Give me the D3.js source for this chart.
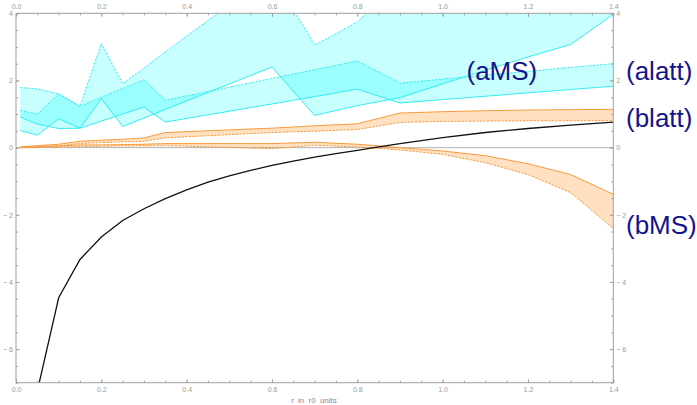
<!DOCTYPE html>
<html>
<head>
<meta charset="utf-8">
<script src="https://cdn.jsdelivr.net/npm/d3@7"></script>
<style>
  body { margin: 0; background: #fff; }
  svg { display: block; font-family: "Liberation Sans", Arial, sans-serif; }
</style>
</head>
<body>
<svg id="chart" width="697" height="405"></svg>
<script>
// Sample radii (in r0 units) shared by the four bands
const rBand = [0.01, 0.05, 0.1, 0.15, 0.2, 0.25, 0.3, 0.35, 0.6, 0.7, 0.8, 0.9, 1.0, 1.1, 1.2, 1.3, 1.4];

// a coefficient, MS estimate (upper dashed / lower solid)
const aMSUpper = [1.79, 1.75, 1.60, 1.23, 3.10, 1.90, 2.37, 2.85, 5.20, 3.05, 3.74, 5.00, 5.40, 5.70, 6.00, 6.20, 6.40];
const aMSLower = [0.51, 0.37, 0.86, 0.58, 1.46, 0.63, 0.88, 1.14, 2.40, 0.96, 1.25, 1.49, 1.90, 2.30, 2.70, 3.07, 3.97];

// a coefficient, lattice estimate (upper dashed / lower solid)
const alattUpper = [1.11, 0.99, 1.60, 1.23, 1.50, 1.76, 2.02, 1.41, 2.06, 2.32, 2.58, 1.92, 2.04, 2.16, 2.27, 2.39, 2.50];
const alattLower = [0.91, 0.70, 0.57, 0.58, 0.79, 1.00, 1.21, 0.76, 1.30, 1.52, 1.74, 1.33, 1.43, 1.53, 1.63, 1.73, 1.83];

// b coefficient, lattice estimate (upper solid / lower dashed)
const blattUpper = [0.02, 0.06, 0.10, 0.19, 0.22, 0.25, 0.29, 0.45, 0.58, 0.65, 0.71, 1.03, 1.07, 1.10, 1.12, 1.13, 1.14];
const blattLower = [0.00, 0.03, 0.05, 0.12, 0.15, 0.17, 0.19, 0.29, 0.45, 0.49, 0.54, 0.75, 0.78, 0.79, 0.80, 0.80, 0.81];

// b coefficient, MS estimate (upper solid / lower dashed)
const bMSUpper = [0.00, 0.02, 0.05, 0.08, 0.08, 0.09, 0.10, 0.12, 0.12, 0.16, 0.10, 0.00, -0.10, -0.24, -0.48, -0.80, -1.39];
const bMSLower = [0.00, 0.01, 0.02, 0.03, 0.04, 0.05, 0.05, 0.06, -0.03, 0.07, 0.02, -0.07, -0.20, -0.45, -0.80, -1.34, -2.41];

// Reference curve
const rCurve = [0.05, 0.1, 0.15, 0.2, 0.25, 0.3, 0.35, 0.4, 0.45, 0.5, 0.55, 0.6, 0.65, 0.7, 0.75, 0.8, 0.85, 0.9, 0.95, 1.0, 1.1, 1.2, 1.3, 1.4];
const curveVals = [-7.25, -4.47, -3.33, -2.66, -2.17, -1.82, -1.52, -1.26, -1.03, -0.84, -0.68, -0.53, -0.40, -0.28, -0.18, -0.08, 0.02, 0.12, 0.21, 0.30, 0.45, 0.57, 0.67, 0.76];

// Ticks
const xMajor = [0, 0.2, 0.4, 0.6, 0.8, 1.0, 1.2, 1.4];
const xMinor = d3.range(0, 1.4001, 0.05);
const yMajor = [-6, -4, -2, 0, 2, 4];
const yMinor = d3.range(-7, 4.001, 0.5);

(function draw() {
  const svg = d3.select("#chart");
  const pLeft = 16, pRight = 613.3, pTop = 13.3, pBottom = 382.7;

  const x = d3.scaleLinear().domain([0, 1.4]).range([pLeft, pRight]);
  const y = d3.scaleLinear().domain([-7, 4]).range([pBottom, pTop]);

  svg.append("defs").append("clipPath").attr("id", "plotClip")
    .append("rect")
    .attr("x", pLeft).attr("y", pTop)
    .attr("width", pRight - pLeft).attr("height", pBottom - pTop);

  const plot = svg.append("g").attr("clip-path", "url(#plotClip)");

  // zero line
  plot.append("line")
    .attr("x1", pLeft).attr("x2", pRight)
    .attr("y1", y(0)).attr("y2", y(0))
    .attr("stroke", "#b4b4b4").attr("stroke-width", 1);

  const cyan = "#36eaf2";
  const orange = "#f89a3c";
  const dash = "2.2,1.4";

  // shaded band between two curves; dashedEdge says which edge is drawn dashed
  function band(upper, lower, fill, fillOpacity, stroke, dashedEdge) {
    const pts = rBand.map((r, i) => ({ r, hi: upper[i], lo: lower[i] }));
    const area = d3.area().x(d => x(d.r)).y0(d => y(d.lo)).y1(d => y(d.hi));
    plot.append("path").datum(pts)
      .attr("d", area)
      .attr("fill", fill).attr("fill-opacity", fillOpacity).attr("stroke", "none");
    ["hi", "lo"].forEach(key => {
      plot.append("path").datum(pts)
        .attr("d", d3.line().x(d => x(d.r)).y(d => y(d[key])))
        .attr("fill", "none").attr("stroke", stroke).attr("stroke-width", 1)
        .attr("stroke-dasharray", key === dashedEdge ? dash : null);
    });
  }

  band(aMSUpper, aMSLower, "#00ffff", 0.22, cyan, "hi");
  band(alattUpper, alattLower, "#00ffff", 0.22, cyan, "hi");
  band(blattUpper, blattLower, "#ff8000", 0.24, orange, "lo");
  band(bMSUpper, bMSLower, "#ff8000", 0.24, orange, "lo");

  plot.append("path")
    .datum(rCurve.map((r, i) => [r, curveVals[i]]))
    .attr("d", d3.line().x(d => x(d[0])).y(d => y(d[1])))
    .attr("fill", "none").attr("stroke", "#111").attr("stroke-width", 1.3);

  // frame
  svg.append("rect")
    .attr("x", pLeft).attr("y", pTop)
    .attr("width", pRight - pLeft).attr("height", pBottom - pTop)
    .attr("fill", "none").attr("stroke", "#a0a0a0").attr("stroke-width", 1);

  const fmtX = d3.format(".1f");
  const fmtY = d => d < 0 ? "\u2212 " + Math.abs(d) : String(d);

  function styleAxis(g) {
    g.select(".domain").remove();
    g.selectAll("line").attr("stroke", "#a0a0a0");
    g.selectAll("text").attr("fill", "#9a9a9a").style("font-size", "7px")
      .style("font-family", "'Liberation Sans', Arial, sans-serif");
  }

  // minor ticks
  svg.append("g").attr("transform", `translate(0,${pBottom})`)
    .call(d3.axisBottom(x).tickValues(xMinor).tickSize(-2).tickFormat("")).call(styleAxis);
  svg.append("g").attr("transform", `translate(0,${pTop})`)
    .call(d3.axisTop(x).tickValues(xMinor).tickSize(-2).tickFormat("")).call(styleAxis);
  svg.append("g").attr("transform", `translate(${pLeft},0)`)
    .call(d3.axisLeft(y).tickValues(yMinor).tickSize(-2).tickFormat("")).call(styleAxis);
  svg.append("g").attr("transform", `translate(${pRight},0)`)
    .call(d3.axisRight(y).tickValues(yMinor).tickSize(-2).tickFormat("")).call(styleAxis);

  // major ticks with labels
  svg.append("g").attr("transform", `translate(0,${pBottom})`)
    .call(d3.axisBottom(x).tickValues(xMajor).tickSize(-3.5).tickPadding(4).tickFormat(fmtX)).call(styleAxis);
  svg.append("g").attr("transform", `translate(0,${pTop})`)
    .call(d3.axisTop(x).tickValues(xMajor).tickSize(-3.5).tickPadding(4).tickFormat(fmtX)).call(styleAxis);
  svg.append("g").attr("transform", `translate(${pLeft},0)`)
    .call(d3.axisLeft(y).tickValues(yMajor).tickSize(-3.5).tickPadding(3).tickFormat(fmtY)).call(styleAxis);
  svg.append("g").attr("transform", `translate(${pRight},0)`)
    .call(d3.axisRight(y).tickValues(yMajor).tickSize(-3.5).tickPadding(3).tickFormat(fmtY)).call(styleAxis);

  // axis title
  svg.append("text")
    .attr("x", 314).attr("y", 403)
    .attr("text-anchor", "middle")
    .attr("fill", "#8a8a8a").style("font-size", "8px").style("word-spacing", "2px")
    .text("r in r0 units");

  // band labels
  const labelColor = "#12148c";
  const labels = [
    { text: "(aMS)", x: 466.5, y: 80 },
    { text: "(alatt)", x: 626, y: 80 },
    { text: "(blatt)", x: 626, y: 127 },
    { text: "(bMS)", x: 626, y: 234 }
  ];
  svg.selectAll("text.band-label").data(labels).enter().append("text")
    .attr("class", "band-label")
    .attr("x", d => d.x).attr("y", d => d.y)
    .attr("fill", labelColor).style("font-size", "26px")
    .text(d => d.text);
})();
</script>
</body>
</html>
